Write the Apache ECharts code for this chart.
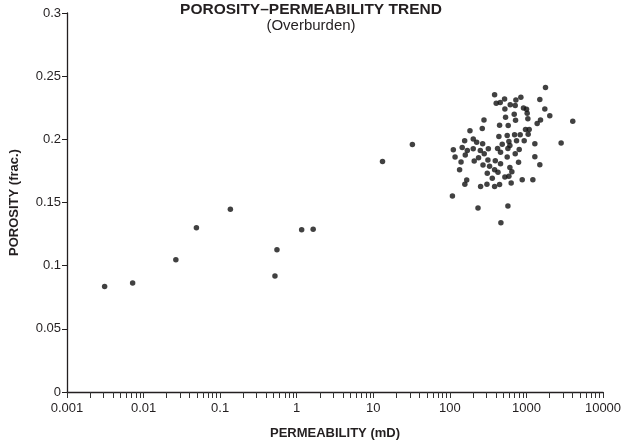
<!DOCTYPE html>
<html>
<head>
<meta charset="utf-8">
<script src="https://cdn.jsdelivr.net/npm/echarts@6/dist/echarts.min.js"></script>
<style>html,body{margin:0;padding:0;background:#fff}#c{width:626px;height:445px}</style>
</head>
<body>
<div id="c"></div>
<script>
// Permeability (mD) and porosity (frac.) of each sample
const permeability = [
  0.0031, 0.0072, 0.0264, 0.049, 0.136, 0.52, 0.552, 1.16, 1.64, 13.2, 32.4,
  1774, 384, 846, 728, 518, 455, 403, 1496, 614, 714, 916, 1003, 523, 1738, 1023, 693,
  2018, 534, 1044, 721, 279, 1527, 4027, 1381, 446, 578, 265, 973, 1086, 183, 1054, 829,
  700, 561, 437, 202, 156, 743, 935, 590, 2840, 1288, 224, 268, 483, 608, 145, 169, 202,
  111, 250, 318, 420, 573, 805, 281, 159, 117, 459, 714, 1288, 561, 237, 208, 314, 392,
  140, 789, 459, 271, 330, 1496, 608, 134, 384, 645, 425, 308, 590, 523, 358, 166, 157,
  881, 1213, 632, 305, 446, 384, 252, 108, 233, 573, 464
];
const porosity = [
  0.0836, 0.0862, 0.1047, 0.130, 0.1446, 0.0918, 0.1126, 0.1284, 0.1289, 0.1825, 0.1959,
  0.241, 0.2352, 0.2333, 0.2312, 0.2320, 0.2291, 0.2286, 0.2315, 0.2273, 0.2267, 0.2249, 0.2239, 0.2241, 0.2241, 0.2207, 0.2199,
  0.2186, 0.2175, 0.2162, 0.2152, 0.2154, 0.2154, 0.2144, 0.2125, 0.2112, 0.2110, 0.2086, 0.2078, 0.2078, 0.2068, 0.2041, 0.2036,
  0.2036, 0.2031, 0.2023, 0.2002, 0.1989, 0.1989, 0.1989, 0.1983, 0.1970, 0.1965, 0.1976, 0.1965, 0.1962, 0.1952, 0.1936, 0.1912, 0.1926,
  0.1918, 0.1912, 0.1926, 0.1928, 0.1928, 0.1920, 0.1886, 0.1876, 0.1860, 0.1897, 0.1886, 0.1862, 0.1860, 0.1855, 0.1828, 0.1836, 0.1831,
  0.1820, 0.1818, 0.1807, 0.1797, 0.1786, 0.1799, 0.1778, 0.1760, 0.1760, 0.1744, 0.1739, 0.1731, 0.1707, 0.1702, 0.1691, 0.1678, 0.1644,
  0.1681, 0.1681, 0.1655, 0.1644, 0.1642, 0.1626, 0.1626, 0.1552, 0.1457, 0.1473, 0.1339
];
const xTickValues = [0.001, 0.01, 0.1, 1, 10, 100, 1000, 10000];
const xTickLabels = ['0.001', '0.01', '0.1', '1', '10', '100', '1000', '10000'];
const minorMultipliers = [1, 2, 3, 4, 5, 6, 7, 8, 9];
const yTickLabels = ['0', '0.05', '0.1', '0.15', '0.2', '0.25', '0.3'];

const xMinorTicks = [];
xTickValues.forEach(function (d, i) {
  if (i === xTickValues.length - 1) { xMinorTicks.push(d); return; }
  minorMultipliers.forEach(function (m) { xMinorTicks.push(+(m * d).toPrecision(6)); });
});

const points = permeability.map(function (p, i) { return [p, porosity[i]]; });
const ink = '#231f20';
const font = 'Liberation Sans, Arial, Helvetica, sans-serif';

const chart = echarts.init(document.getElementById('c'), null, { renderer: 'canvas' });
chart.setOption({
  animation: false,
  backgroundColor: '#fff',
  title: {
    text: 'POROSITY–PERMEABILITY TREND',
    subtext: '(Overburden)',
    left: 306, top: -3, textAlign: 'center',
    itemGap: 0,
    textStyle: { fontFamily: font, fontSize: 15.5, fontWeight: 'bold', color: ink },
    subtextStyle: { fontFamily: font, fontSize: 15, color: ink }
  },
  grid: { left: 66, right: 23, top: 13, bottom: 47, containLabel: false },
  xAxis: {
    type: 'log', logBase: 10, min: 0.001, max: 10000,
    name: 'PERMEABILITY (mD)', nameLocation: 'middle', nameGap: 35,
    nameTextStyle: { fontFamily: font, fontSize: 13, fontWeight: 'bold', color: ink },
    axisLine: { show: true, onZero: false, lineStyle: { color: ink, width: 1.3 } },
    axisTick: { show: true, inside: false, length: 6, customValues: xMinorTicks, lineStyle: { color: '#333', width: 1 } },
    axisLabel: {
      customValues: xTickValues, margin: 10, color: ink, fontFamily: font, fontSize: 13,
      formatter: function (v) { return xTickLabels[Math.round(Math.log10(v)) + 3]; }
    },
    splitLine: { show: false }
  },
  yAxis: {
    type: 'value', min: 0, max: 0.3, interval: 0.05,
    name: 'POROSITY (frac.)', nameLocation: 'middle', nameGap: 46, nameRotate: 90,
    nameTextStyle: { fontFamily: font, fontSize: 13, fontWeight: 'bold', color: ink },
    axisLine: { show: true, lineStyle: { color: ink, width: 1.3 } },
    axisTick: { show: true, inside: false, length: 5, lineStyle: { color: ink, width: 1 } },
    axisLabel: {
      margin: 6, color: ink, fontFamily: font, fontSize: 13,
      formatter: function (v) { return yTickLabels[Math.round(v / 0.05)]; }
    },
    splitLine: { show: false }
  },
  series: [{
    type: 'scatter',
    data: points,
    symbol: 'circle', symbolSize: 5.5,
    itemStyle: { color: '#111' }
  }]
});
</script>
</body>
</html>
